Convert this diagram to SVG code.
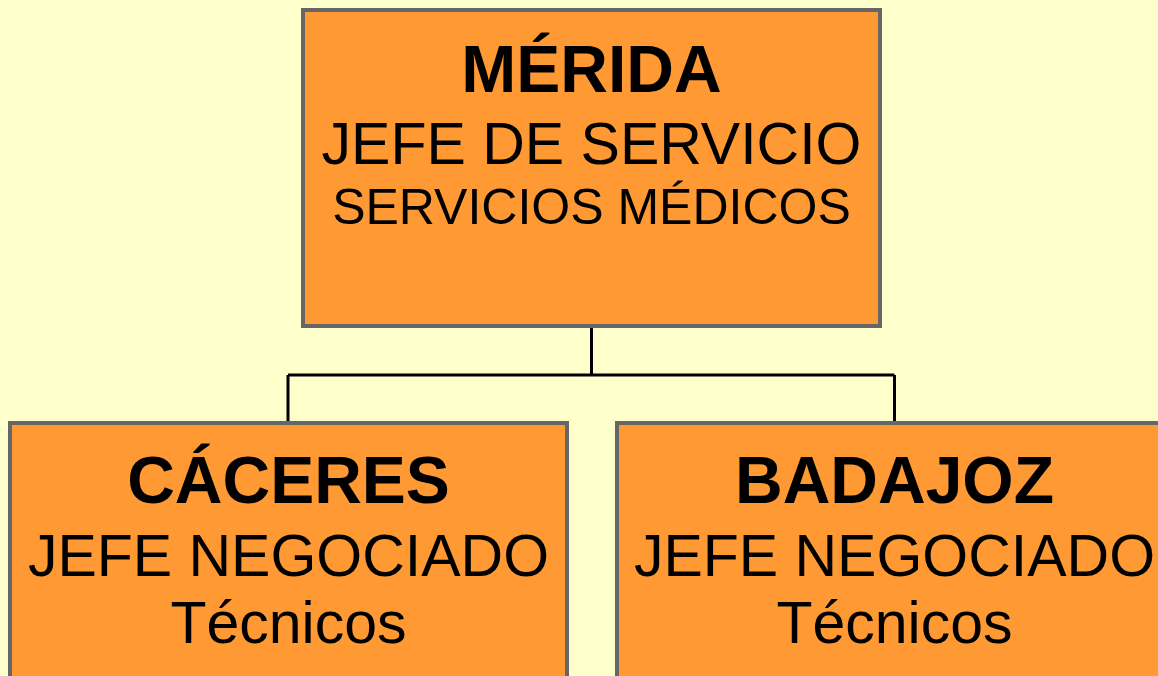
<svg xmlns="http://www.w3.org/2000/svg" width="1158" height="676" viewBox="0 0 1158 676">
<style>
.box{fill:#FF9933;stroke:#666666;stroke-width:4}
.t{font-family:"Liberation Sans",Arial,sans-serif;fill:#000;text-anchor:middle}
.b{font-weight:bold;font-size:66px}
.r{font-size:59px}
.conn{fill:none;stroke:#000;stroke-width:3}
</style>
<rect width="1158" height="676" fill="#FFFFCC"/>
<g id="connectors">
<path class="conn" d="M591.5,328 V375 M288,375 H894.5 M288,375 V421 M894.5,375 V421"/>
</g>
<g id="merida">
<rect class="box" x="303" y="10" width="577" height="316"/>
<text class="t b" x="591.5" y="92">MÉRIDA</text>
<text class="t r" x="591.5" y="164">JEFE DE SERVICIO</text>
<text class="t" x="591.5" y="224" font-size="50">SERVICIOS MÉDICOS</text>
</g>
<g id="caceres">
<rect class="box" x="10" y="423" width="557" height="300"/>
<text class="t b" x="288.5" y="503">CÁCERES</text>
<text class="t r" x="288.5" y="576">JEFE NEGOCIADO</text>
<text class="t r" x="288.5" y="643">Técnicos</text>
</g>
<g id="badajoz">
<rect class="box" x="617" y="423" width="555" height="300"/>
<text class="t b" x="894.5" y="503">BADAJOZ</text>
<text class="t r" x="894.5" y="576">JEFE NEGOCIADO</text>
<text class="t r" x="894.5" y="643">Técnicos</text>
</g>
</svg>
